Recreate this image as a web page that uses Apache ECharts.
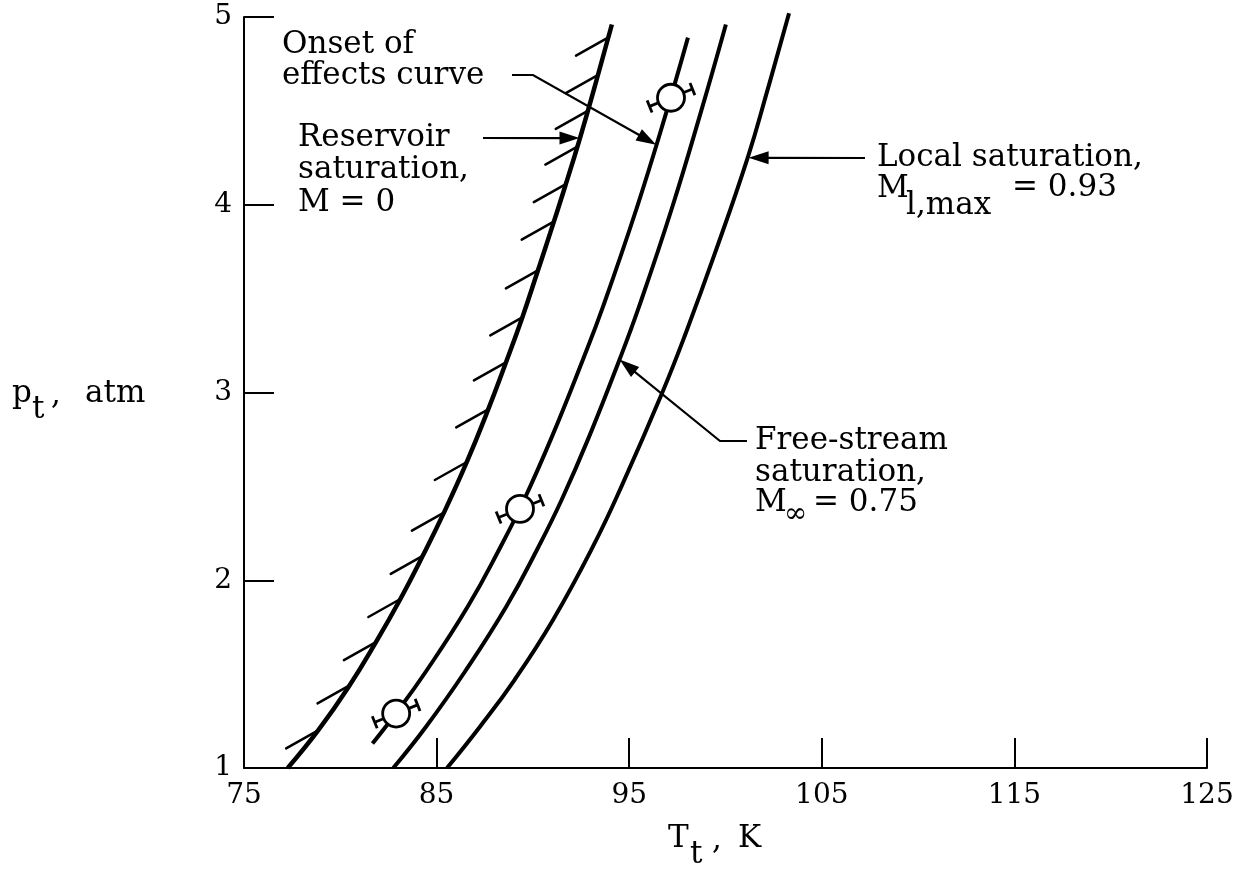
<!DOCTYPE html>
<html>
<head>
<meta charset="utf-8">
<script src="https://cdn.jsdelivr.net/npm/echarts@6/dist/echarts.min.js"></script>
<style>
  html, body { margin: 0; padding: 0; background: #ffffff; }
  #chart { width: 1242px; height: 872px; }
</style>
</head>
<body>
<div id="chart"></div>
<script>
// Total pressure p_t (atm) against total temperature T_t (K)
const xTicks = [75, 85, 95, 105, 115, 125];
const yTicks = [1, 2, 3, 4, 5];

// [T_t, p_t] along each curve
const reservoirSat = [[77.27,1.0],[78.85,1.2],[80.42,1.43],[81.85,1.67],[83.12,1.9],[84.28,2.13],[85.38,2.36],[86.57,2.63],[87.68,2.91],[88.6,3.16],[89.45,3.4],[90.26,3.65],[90.9,3.85],[91.68,4.1],[92.43,4.35],[93.13,4.6],[94.1,4.96]];
const onsetCurve = [[81.67,1.13],[82.88,1.29],[84.42,1.51],[86.62,1.86],[88.33,2.18],[89.55,2.43],[90.99,2.765],[92.6,3.176],[93.65,3.46],[95.37,3.976],[96.95,4.5],[98.05,4.89]];
const freeStreamSat = [[82.75,1.0],[84.45,1.22],[86.45,1.51],[88.62,1.86],[90.3,2.18],[91.5,2.43],[92.92,2.765],[94.5,3.176],[95.52,3.46],[97.2,3.976],[98.74,4.5],[100.02,4.96]];
const localSat = [[85.54,1.0],[87.25,1.22],[89.05,1.47],[91.05,1.79],[93.12,2.18],[94.6,2.5],[96.72,3.0],[97.95,3.32],[99.48,3.75],[101.15,4.25],[102.15,4.6],[103.3,5.02]];

// onset measurements: [T_t, p_t, temperature band half-width (K)]
const onsetPoints = [[82.9,1.29,1.2],[89.33,2.38,1.2],[97.17,4.57,1.2]];

// hatch anchors on the reservoir saturation curve
const hatchAnchors = [[78.85,1.2],[80.48,1.44],[81.85,1.67],[83.12,1.9],[84.28,2.13],[85.38,2.36],[86.57,2.63],[87.68,2.91],[88.6,3.16],[89.45,3.4],[90.26,3.65],[91.08,3.91],[91.71,4.11],[92.31,4.31],[92.85,4.5],[93.37,4.69],[93.9,4.89]];

// points where the callout arrows touch the curves
const calloutTips = [[96.4,4.32],[92.42,4.355],[101.2,4.25],[94.5,3.176]];

// ---- drawing constants ----
const SERIF = '"DejaVu Serif", "Liberation Serif", serif';
const TXT = 31;
const HATCH = [-32, 18];
const TILT = 22 * Math.PI / 180;
const CAP = 6.5;
const RADIUS = 13.5;
const AH_LEN = 20, AH_W = 6.5;
// leader line bends (pixels), from the text end toward the tip
const calloutTails = [
  [[512, 75], [533, 75]],
  [[483, 138]],
  [[865, 158]],
  [[747, 441], [720, 441]]
];

function curve(name, data, width) {
  return {
    name, type: 'line', data, smooth: 0.45, showSymbol: false, clip: false,
    lineStyle: { color: '#000', width }, silent: true, z: 3
  };
}

function renderHatch(params, api) {
  const p = api.coord([api.value(0), api.value(1)]);
  return {
    type: 'line',
    shape: { x1: p[0], y1: p[1], x2: p[0] + HATCH[0], y2: p[1] + HATCH[1] },
    style: { stroke: '#000', lineWidth: 2.5, lineCap: 'round' }
  };
}

function renderPoint(params, api) {
  const c = api.coord([api.value(0), api.value(1)]);
  const e = api.coord([api.value(0) + api.value(2), api.value(1)]);
  const half = e[0] - c[0];
  const ux = Math.cos(TILT), uy = -Math.sin(TILT);
  const px = Math.sin(TILT), py = Math.cos(TILT);
  const a = [c[0] - ux * half, c[1] - uy * half];
  const b = [c[0] + ux * half, c[1] + uy * half];
  const st = { stroke: '#000', lineWidth: 2.8 };
  return {
    type: 'group',
    children: [
      { type: 'line', shape: { x1: a[0], y1: a[1], x2: b[0], y2: b[1] }, style: st },
      { type: 'line', shape: { x1: a[0] - px * CAP, y1: a[1] - py * CAP, x2: a[0] + px * CAP, y2: a[1] + py * CAP }, style: st },
      { type: 'line', shape: { x1: b[0] - px * CAP, y1: b[1] - py * CAP, x2: b[0] + px * CAP, y2: b[1] + py * CAP }, style: st },
      { type: 'circle', shape: { cx: c[0], cy: c[1], r: RADIUS }, style: { fill: '#fff', stroke: '#000', lineWidth: 2.8 } }
    ]
  };
}

function renderArrow(params, api) {
  const tip = api.coord([api.value(0), api.value(1)]);
  const pts = calloutTails[params.dataIndex].concat([tip]);
  const prev = pts[pts.length - 2];
  const dx = tip[0] - prev[0], dy = tip[1] - prev[1];
  const len = Math.hypot(dx, dy);
  const ux = dx / len, uy = dy / len;
  const bx = tip[0] - ux * AH_LEN, by = tip[1] - uy * AH_LEN;
  const head = [[tip[0], tip[1]], [bx - uy * AH_W, by + ux * AH_W], [bx + uy * AH_W, by - ux * AH_W]];
  const line = pts.slice(0, -1).concat([[bx + ux * 2, by + uy * 2]]);
  return {
    type: 'group',
    children: [
      { type: 'polyline', shape: { points: line }, style: { stroke: '#000', lineWidth: 2.2, fill: null } },
      { type: 'polygon', shape: { points: head }, style: { fill: '#000' } }
    ]
  };
}

function label(x, y, text, size) {
  return {
    type: 'text', x, y, silent: true,
    style: {
      text, font: (size || TXT) + 'px ' + SERIF, fill: '#000',
      align: 'left', verticalAlign: 'middle',
      textAlign: 'left', textVerticalAlign: 'middle'
    }
  };
}

const texts = [
  label(282, 45, 'Onset of'),
  label(282, 76, 'effects curve'),
  label(298, 138, 'Reservoir'),
  label(298, 170, 'saturation,'),
  label(298, 203, 'M = 0'),
  label(877, 158, 'Local saturation,'),
  label(877, 189, 'M'),
  label(906, 206, 'l,max'),
  label(1012, 188, '= 0.93'),
  label(755, 441, 'Free-stream'),
  label(755, 473, 'saturation,'),
  label(755, 503, 'M'),
  label(784, 515, '\u221E', 28),
  label(813, 503, '= 0.75'),
  // axis titles
  label(12, 394, 'p'),
  label(32, 410, 't'),
  label(51, 396, ','),
  label(85, 394, 'atm'),
  label(668, 839, 'T'),
  label(690, 855, 't'),
  label(712, 841, ','),
  label(738, 839, 'K')
];

const chart = echarts.init(document.getElementById('chart'), null, { renderer: 'canvas' });
chart.setOption({
  animation: false,
  backgroundColor: '#fff',
  grid: { left: 244, right: 35, top: 17, bottom: 104 },
  xAxis: {
    type: 'value', min: 75, max: 125,
    axisLine: { show: true, onZero: false, lineStyle: { color: '#000', width: 2 } },
    axisTick: { show: true, inside: true, length: 30, customValues: xTicks, lineStyle: { color: '#000', width: 2 } },
    axisLabel: { customValues: xTicks, margin: 14, color: '#000', fontSize: 28, fontFamily: SERIF },
    splitLine: { show: false }
  },
  yAxis: {
    type: 'value', min: 1, max: 5,
    axisLine: { show: true, onZero: false, lineStyle: { color: '#000', width: 2 } },
    axisTick: { show: true, inside: true, length: 30, customValues: yTicks, lineStyle: { color: '#000', width: 2 } },
    axisLabel: { customValues: yTicks, margin: 12, color: '#000', fontSize: 28, fontFamily: SERIF },
    splitLine: { show: false }
  },
  graphic: { elements: texts },
  series: [
    curve('Reservoir saturation', reservoirSat, 4.5),
    curve('Onset of effects', onsetCurve, 4),
    curve('Free-stream saturation', freeStreamSat, 4),
    curve('Local saturation', localSat, 4),
    { type: 'custom', name: 'hatch', data: hatchAnchors, renderItem: renderHatch, clip: false, silent: true, z: 3 },
    { type: 'custom', name: 'callouts', data: calloutTips, renderItem: renderArrow, clip: false, silent: true, z: 4 },
    { type: 'custom', name: 'onset points', data: onsetPoints, renderItem: renderPoint, clip: false, silent: true, z: 5 }
  ]
});
</script>
</body>
</html>
